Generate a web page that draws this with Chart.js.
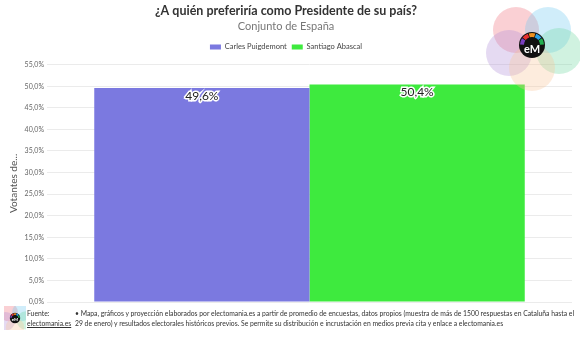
<!DOCTYPE html>
<html>
<head>
<meta charset="utf-8">
<script src="https://cdn.jsdelivr.net/npm/chart.js@4"></script>
<style>
  body { margin: 0; background: #fff; font-family: Lato, sans-serif; }
  #wrap { position: relative; width: 580px; height: 337px; overflow: hidden; }
  #chart { position: absolute; left: 0; top: 0; }
  .foot { position: absolute; font-size: 6.8px; color: #333; line-height: 10px; white-space: nowrap; }
  #fuente { left: 27px; top: 308px; }
  #site { left: 27px; top: 318px; text-decoration: underline; }
  #note { left: 75px; top: 308px; width: 506px; white-space: normal; }
  #minilogo { position: absolute; left: 4px; top: 306px; }
</style>
</head>
<body>
<div id="wrap">
  <canvas id="chart" width="580" height="337"></canvas>
  <canvas id="minilogo" width="22" height="24"></canvas>
  <div class="foot" id="fuente">Fuente:</div>
  <div class="foot" id="site">electomania.es</div>
  <div class="foot" id="note">• Mapa, gráficos y proyección elaborados por electomania.es a partir de promedio de encuestas, datos propios (muestra de más de 1500 respuestas en Cataluña hasta el 29 de enero) y resultados electorales históricos previos. Se permite su distribución e incrustación en medios previa cita y enlace a electomania.es</div>
</div>
<script>
// data
const categories = ['Conjunto de España'];
const seriesNames = ['Carles Puigdemont', 'Santiago Abascal'];
const puigdemontValues = [49.6];
const abascalValues = [50.4];
const seriesColors = ['#7b79e0', '#3eea3e'];
const yMax = 55;
const yStep = 5;

const fmtPct = (v) => v.toFixed(1).replace('.', ',') + '%';

// the five pastel circles + black "eM" badge
function drawLogo(ctx, cx, cy, s) {
  const petals = [
    [-16, -15, 'rgba(240,110,120,0.32)'],
    [16, -15, 'rgba(110,200,240,0.32)'],
    [-23, 8, 'rgba(175,140,215,0.32)'],
    [27, 6, 'rgba(110,215,160,0.32)'],
    [0, 23, 'rgba(250,195,150,0.32)'],
  ];
  ctx.save();
  petals.forEach(([dx, dy, c]) => {
    ctx.beginPath();
    ctx.arc(cx + dx * s, cy + dy * s, 23 * s, 0, Math.PI * 2);
    ctx.fillStyle = c;
    ctx.fill();
  });
  ctx.beginPath();
  ctx.arc(cx, cy, 13 * s, 0, Math.PI * 2);
  ctx.fillStyle = '#111';
  ctx.fill();
  const segs = ['#7a3fc0', '#e83030', '#f09020', '#2aa0e8', '#20b050'];
  segs.forEach((c, i) => {
    const a0 = Math.PI * (1.0 + i * 0.2) + 0.04;
    ctx.beginPath();
    ctx.arc(cx, cy, 10 * s, a0, a0 + Math.PI * 0.2 - 0.08);
    ctx.strokeStyle = c;
    ctx.lineWidth = 4 * s;
    ctx.stroke();
  });
  ctx.fillStyle = '#fff';
  ctx.font = `bold ${11 * s}px Lato, sans-serif`;
  ctx.textAlign = 'center';
  ctx.textBaseline = 'middle';
  ctx.fillText('eM', cx, cy + 4 * s);
  ctx.restore();
}

const valueLabels = {
  id: 'valueLabels',
  afterDatasetsDraw(chart) {
    const ctx = chart.ctx;
    ctx.save();
    ctx.font = '12px Lato, sans-serif';
    ctx.textAlign = 'center';
    ctx.textBaseline = 'middle';
    chart.data.datasets.forEach((ds, i) => {
      chart.getDatasetMeta(i).data.forEach((bar, j) => {
        const txt = fmtPct(ds.data[j]);
        ctx.lineWidth = 3;
        ctx.strokeStyle = '#fff';
        ctx.strokeText(txt, bar.x, bar.y + 8);
        ctx.fillStyle = '#222';
        ctx.fillText(txt, bar.x, bar.y + 8);
      });
    });
    ctx.restore();
  }
};

// extra room under the legend
const legendGap = {
  id: 'legendGap',
  beforeInit(chart) {
    const origFit = chart.legend.fit;
    chart.legend.fit = function () {
      origFit.bind(chart.legend)();
      this.height += 4;
    };
  }
};

const logoPlugin = {
  id: 'logo',
  afterDraw(chart) {
    drawLogo(chart.ctx, 532, 45, 1);
  }
};

const ctx = document.getElementById('chart').getContext('2d');
new Chart(ctx, {
  type: 'bar',
  data: {
    labels: categories,
    datasets: [
      { label: seriesNames[0], data: puigdemontValues, backgroundColor: seriesColors[0] },
      { label: seriesNames[1], data: abascalValues, backgroundColor: seriesColors[1] },
    ],
  },
  options: {
    responsive: false,
    animation: false,
    devicePixelRatio: 1,
    categoryPercentage: 0.82,
    barPercentage: 1.0,
    layout: { padding: { left: 0, right: 8, top: 2, bottom: 35 } },
    scales: {
      x: { display: false },
      y: {
        min: 0,
        max: yMax,
        ticks: {
          stepSize: yStep,
          padding: 3,
          color: '#666',
          font: { family: 'Lato', size: 7 },
          callback: (v) => fmtPct(v),
        },
        grid: { color: '#ebebeb', drawTicks: false },
        border: { display: false },
        title: {
          display: true,
          text: 'Votantes de...',
          color: '#555',
          font: { family: 'Lato', size: 10 },
          padding: { top: 8, bottom: 0 },
        },
        afterFit: (scale) => { scale.width = 47; },
      },
    },
    plugins: {
      title: {
        display: true,
        text: '¿A quién preferiría como Presidente de su país?',
        color: '#333',
        font: { family: 'Lato', size: 12.5, weight: 'bold' },
        padding: { top: 1, bottom: 0 },
      },
      subtitle: {
        display: true,
        text: 'Conjunto de España',
        color: '#777',
        font: { family: 'Lato', size: 11 },
        padding: { top: 2, bottom: 5 },
      },
      legend: {
        labels: {
          boxWidth: 11,
          boxHeight: 5,
          padding: 5,
          color: '#444',
          font: { family: 'Lato', size: 7.5 },
        },
      },
      tooltip: { enabled: false },
    },
  },
  plugins: [legendGap, valueLabels, logoPlugin],
});

drawLogo(document.getElementById('minilogo').getContext('2d'), 11, 12, 0.4);
</script>
</body>
</html>
